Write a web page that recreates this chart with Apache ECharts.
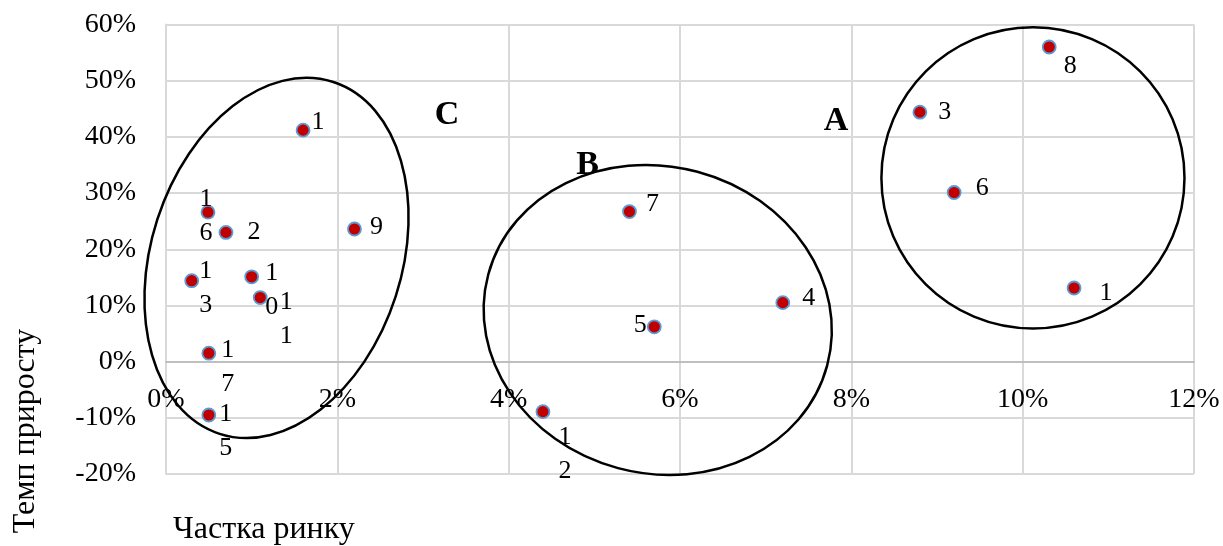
<!DOCTYPE html>
<html>
<head>
<meta charset="utf-8">
<script src="https://cdn.jsdelivr.net/npm/echarts@6/dist/echarts.min.js"></script>
<style>html,body{margin:0;padding:0;background:#fff}#c{width:1223px;height:546px}</style>
</head>
<body>
<div id="c"></div>
<script>
// ---- data ----
const marketShare = [1.60, 0.49, 0.70, 2.20, 0.30, 1.00, 1.10, 0.50, 0.50, 5.41, 5.70, 7.20, 4.40, 10.31, 8.80, 9.20, 10.60];
const growthRate  = [41.2, 26.6, 23.0, 23.6, 14.4, 15.1, 11.4, 1.5, -9.5, 26.7, 6.2, 10.5, -8.9, 56.0, 44.4, 30.1, 13.1];
const pointLabels = ['1', '1\n6', '2', '9', '1\n3', '1\n0', '1\n1', '1\n7', '1\n5', '7', '5', '4', '1\n2', '8', '3', '6', '1'];
const xTicks = [0, 2, 4, 6, 8, 10, 12];
const yTicks = [-20, -10, 0, 10, 20, 30, 40, 50, 60];
const clusterNames = ['C', 'B', 'A'];
const clusterCenterX = [1.29, 5.74, 10.12];
const clusterCenterY = [18.45, 7.42, 32.7];
const clusterRadiusX = [1.462, 2.048, 1.769];
const clusterRadiusY = [32.9, 27.3, 26.8];
const clusterTilt = [17.9, 15, 0];   // clockwise tilt, degrees
const clusterLetterX = [3.28, 4.92, 7.82];
const clusterLetterY = [43.8, 35.0, 42.7];
const xTitle = 'Частка ринку';
const yTitle = 'Темп приросту';

// ---- label placement (style) ----
const labelOffsets = [[15,-8],[-2,4],[28,0],[22,-2],[14,7],[20,13],[26,22],[19,14],[17,16],[23,-7],[-14,-2],[26,-4],[22,43],[21,19],[25,0],[28,-4],[32,5]];

const FONT = '"Liberation Serif", "Times New Roman", serif';
const GRID = {left: 166, right: 29, top: 24.5, bottom: 72};
const plotH = 546 - GRID.top - GRID.bottom;
const yMin = yTicks[0], yMax = yTicks[yTicks.length - 1];
// distance from the bottom edge of the plot to the 0% line, so the x axis sits on zero
const zeroShift = plotH * (0 - yMin) / (yMax - yMin);

const scatterData = marketShare.map((x, i) => ({
  value: [x, growthRate[i]],
  label: {
    show: true,
    formatter: pointLabels[i],
    position: 'inside',
    offset: labelOffsets[i],
    align: 'center',
    verticalAlign: 'middle',
    lineHeight: 34,
    fontSize: 26,
    fontFamily: FONT,
    color: '#000',
    textBorderWidth: 0
  }
}));

const clusterData = clusterNames.map((n, i) => [clusterCenterX[i], clusterCenterY[i], clusterRadiusX[i], clusterRadiusY[i], clusterTilt[i], clusterLetterX[i], clusterLetterY[i]]);

const chart = echarts.init(document.getElementById('c'), null, {renderer: 'canvas'});
chart.setOption({
  animation: false,
  grid: GRID,
  xAxis: {
    type: 'value',
    min: xTicks[0], max: xTicks[xTicks.length - 1], interval: xTicks[1] - xTicks[0],
    offset: -zeroShift,
    axisLine: {show: true, onZero: false, lineStyle: {color: '#BFBFBF', width: 2}},
    axisTick: {show: false},
    axisLabel: {formatter: '{value}%', fontSize: 28, fontFamily: FONT, color: '#000', margin: 24},
    splitLine: {show: true, lineStyle: {color: '#D9D9D9', width: 2}}
  },
  yAxis: {
    type: 'value',
    min: yMin, max: yMax, interval: yTicks[1] - yTicks[0],
    axisLine: {show: true, onZero: false, lineStyle: {color: '#D9D9D9', width: 2}},
    axisTick: {show: false},
    axisLabel: {formatter: '{value}%', fontSize: 28, fontFamily: FONT, color: '#000', margin: 30},
    splitLine: {show: true, lineStyle: {color: '#D9D9D9', width: 2}}
  },
  graphic: [
    {type: 'text', x: 173, y: 530, style: {text: xTitle, font: '32px ' + FONT, fill: '#000', textAlign: 'left', textVerticalAlign: 'middle'}},
    {type: 'text', x: 26, y: 431, rotation: Math.PI / 2, style: {text: yTitle, font: '32px ' + FONT, fill: '#000', textAlign: 'center', textVerticalAlign: 'middle'}}
  ],
  series: [
    {
      type: 'scatter',
      data: scatterData,
      symbolSize: 13,
      itemStyle: {color: '#C00000', borderColor: '#5B9BD5', borderWidth: 1.8, opacity: 1},
      z: 3
    },
    {
      type: 'custom',
      data: clusterData,
      z: 4,
      renderItem: function (params, api) {
        const c = api.coord([api.value(0), api.value(1)]);
        const s = api.size([api.value(2), api.value(3)]);
        const l = api.coord([api.value(5), api.value(6)]);
        return {
          type: 'group',
          children: [
            {type: 'ellipse', x: c[0], y: c[1], rotation: -api.value(4) * Math.PI / 180,
             shape: {cx: 0, cy: 0, rx: s[0], ry: s[1]},
             style: {fill: 'none', stroke: '#000', lineWidth: 2.5}},
            {type: 'text', x: l[0], y: l[1],
             style: {text: clusterNames[params.dataIndex], font: 'bold 34px ' + FONT, fill: '#000', textAlign: 'center', textVerticalAlign: 'middle'}}
          ]
        };
      }
    }
  ]
});
</script>
</body>
</html>
